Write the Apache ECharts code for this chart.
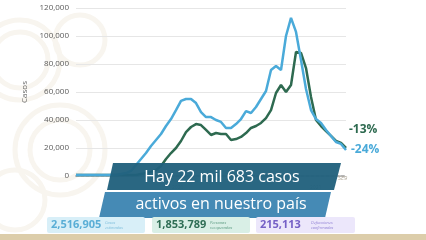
<!DOCTYPE html>
<html><head><meta charset="utf-8">
<script src="https://cdn.jsdelivr.net/npm/echarts@6/dist/echarts.min.js"></script>
<style>html,body{margin:0;padding:0;background:#fff;}#c{width:426px;height:240px;}</style>
</head><body><div id="c"></div>
<script>
// weekly points, early 2020 -> early 2021
const weeks = Array.from({length: 55}, (_, i) => 'S' + (i + 1));
const estimados = [700,700,700,700,700,700,700,700,700,1400,2100,3600,7900,12100,16400,21400,25700,30000,35700,40700,47100,53600,55000,55000,52100,45700,42100,42100,40000,38600,34300,34300,37100,40700,46400,45000,49300,55000,60700,75700,78600,75700,100000,112900,102900,82900,62100,47100,40700,37900,32900,28600,24300,22900,18600];
const confirmados = [700,700,700,700,700,700,700,700,700,700,700,700,700,1400,2100,2900,4300,7100,12100,16400,20000,25000,31400,35000,37100,36400,32900,29300,30700,30000,30000,25700,26400,27900,30700,34300,35700,37900,41400,47100,59300,65000,60000,65000,88600,87900,77100,56400,40000,35700,32100,28600,25000,23600,20000];
const yTicks = [0, 20000, 40000, 60000, 80000, 100000, 120000];
const pctLabels = ['-13%', '-24%'];
const boxValues = ['2,516,905', '1,853,789', '215,113'];
const boxCaptions = [['Casos', 'estimados'], ['Personas', 'recuperadas'], ['Defunciones', 'confirmadas']];
const bannerText = ['Hay 22 mil 683 casos', 'activos en nuestro país'];
const yearLabels = ['2020', '2021'];

const chart = echarts.init(document.getElementById('c'), null, {renderer: 'canvas'});
const F = '"Open Sans", "Noto Sans", sans-serif';

const wm = [];
// very faint ornamental watermark on the left
[[20,60,40],[20,60,28],[60,150,45],[60,150,30],[15,200,30],[80,40,25]].forEach(([x,y,r]) => {
  wm.push({type:'circle', shape:{cx:x, cy:y, r:r}, style:{fill:'none', stroke:'#f8f5ef', lineWidth:5}, silent:true, z:-1});
});

const boxes = [
  {x:47, w:98, fill:'#d8eff8', num:'#5aaed6', cap:'#7fbfdc'},
  {x:152, w:98, fill:'#d9efe6', num:'#2f6e55', cap:'#5a9a80'},
  {x:256, w:99, fill:'#ece7fb', num:'#7560c6', cap:'#8f7fd4'}
];
const boxEls = [];
boxes.forEach((b, i) => {
  boxEls.push({type:'rect', shape:{x:b.x, y:217, width:b.w, height:16, r:2}, style:{fill:b.fill}, z:10});
  boxEls.push({type:'text', x:b.x + 4, y:225, style:{text:boxValues[i], fill:b.num, font:'bold 11px ' + F, verticalAlign:'middle'}, z:11});
  boxEls.push({type:'text', x:b.x + (i === 2 ? 55 : 58), y:225, style:{text:boxCaptions[i].join('\n'), fill:b.cap, font:'italic 4px ' + F, verticalAlign:'middle', lineHeight:5}, z:11});
});

chart.setOption({
  animation: false,
  backgroundColor: '#ffffff',
  grid: {left: 76, right: 80, top: 8, bottom: 64},
  xAxis: {
    type: 'category', data: weeks, boundaryGap: false,
    axisLine: {show: true, lineStyle: {color: '#b5b5b5', type: [3, 2], width: 2}},
    axisTick: {show: false}, axisLabel: {show: false}, splitLine: {show: false}
  },
  yAxis: {
    type: 'value', min: 0, max: 120000, interval: 20000,
    name: 'Casos', nameLocation: 'middle', nameGap: 34, nameRotate: 90,
    nameTextStyle: {color: '#666', fontSize: 8, fontFamily: F},
    axisLine: {show: false}, axisTick: {show: false},
    axisLabel: {color: '#5a5a5a', fontSize: 8, fontFamily: F, margin: 7,
      formatter: v => yTicks.includes(v) ? v.toLocaleString('en-US') : ''},
    splitLine: {lineStyle: {color: '#e6e6e6', width: 1}}
  },
  series: [
    {type: 'line', data: confirmados, symbol: 'none', lineStyle: {color: '#2e6a50', width: 2.5}, z: 2},
    {type: 'line', data: estimados, symbol: 'none', lineStyle: {color: '#4aaad9', width: 2.5}, z: 3}
  ],
  graphic: [
    ...wm,
    {type:'rect', shape:{x:0, y:234, width:426, height:6}, style:{fill:'#dccdaa'}, z:10},
    {type:'text', x:172, y:185, style:{text:yearLabels[0], fill:'#9a9a9a', font:'5px ' + F}, z:5},
    {type:'text', x:310, y:185, style:{text:yearLabels[1], fill:'#9a9a9a', font:'5px ' + F}, z:5},
    {type:'text', x:338, y:175, style:{text:'SE9', fill:'#b0a99a', font:'italic 6px ' + F}, z:5},
    {type:'polygon', shape:{points:[[113,163],[341,163],[334,190],[107,190]]}, style:{fill:'#21617d', opacity:0.96}, z:8},
    {type:'polygon', shape:{points:[[105,192],[331,192],[325,218],[99,218]]}, style:{fill:'#3d85b2', opacity:0.96}, z:8},
    {type:'text', x:222, y:177, style:{text:bannerText[0], fill:'#ffffff', font:'16px ' + F, align:'center', verticalAlign:'middle'}, z:9},
    {type:'text', x:221, y:204, style:{text:bannerText[1], fill:'#ffffff', font:'16px ' + F, align:'center', verticalAlign:'middle'}, z:9},
    {type:'text', x:349, y:130, style:{text:pctLabels[0], fill:'#2e6a50', font:'bold 12px ' + F, verticalAlign:'middle'}, z:9},
    {type:'text', x:351, y:150, style:{text:pctLabels[1], fill:'#4aaad9', font:'bold 12px ' + F, verticalAlign:'middle'}, z:9},
    ...boxEls
  ]
});
</script></body></html>
